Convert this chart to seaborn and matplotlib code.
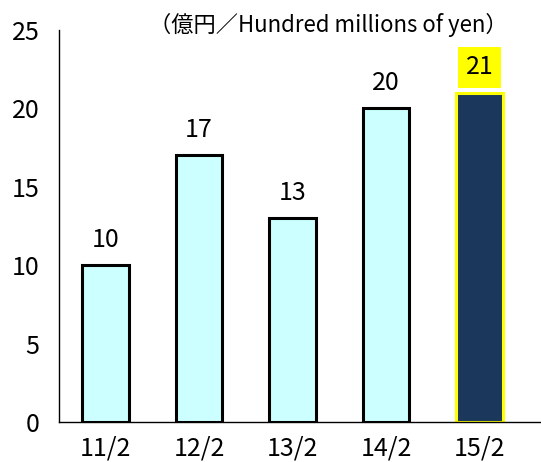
import matplotlib
matplotlib.use("Agg")
import matplotlib.pyplot as plt
import seaborn as sns
import pandas as pd

periods = ["11/2", "12/2", "13/2", "14/2", "15/2"]
values = [10, 17, 13, 20, 21]
fills = ["#CCFFFF", "#CCFFFF", "#CCFFFF", "#CCFFFF", "#1B375C"]
edges = ["#000000", "#000000", "#000000", "#000000", "#FFFF00"]
unit_label = "（億円／Hundred millions of yen）"

sns.set_style("white")
plt.rcParams["font.family"] = ["Noto Sans CJK JP", "DejaVu Sans"]
plt.rcParams["text.color"] = "black"
plt.rcParams["xtick.color"] = "black"
plt.rcParams["ytick.color"] = "black"

df = pd.DataFrame({"period": periods, "value": values})

fig = plt.figure(figsize=(5.41, 4.62), dpi=100)
ax = fig.add_axes([59 / 541, (462 - 422) / 462, (541 - 59) / 541, (422 - 30) / 462])

sns.barplot(data=df, x="period", y="value", hue="period", palette=fills,
            legend=False, width=0.5, ax=ax, saturation=1)

for patch, ec, v in zip(ax.patches, edges, values):
    patch.set_edgecolor(ec)
    patch.set_linewidth(2.2)
    cx = patch.get_x() + patch.get_width() / 2
    top = patch.get_height()
    if ec == "#FFFF00":
        ax.annotate(f"{v}", (cx, top), xytext=(0, 9), textcoords="offset points",
                    ha="center", va="bottom", fontsize=18,
                    bbox=dict(boxstyle="square,pad=0.3", fc="#FFFF00", ec="none"))
    else:
        ax.annotate(f"{v}", (cx, top), xytext=(0, 9), textcoords="offset points",
                    ha="center", va="bottom", fontsize=18)

ax.set_ylim(0, 25)
ax.set_xlim(-0.5, 4.66)
ax.set_yticks([0, 5, 10, 15, 20, 25])
ax.set_xlabel("")
ax.set_ylabel("")
ax.set_xticks([0.5, 1.5, 2.5, 3.5], minor=False)
ax.set_xticklabels([])
ax.set_xticks(range(5), minor=True)
ax.set_xticklabels(periods, minor=True)
ax.tick_params(axis="x", which="major", direction="in", length=6, width=0.8, color="#555555")
ax.tick_params(axis="x", which="minor", length=0, labelsize=18, pad=10)
ax.tick_params(axis="y", direction="in", length=6, width=0.8, labelsize=18, pad=14)

for side in ("top", "right"):
    ax.spines[side].set_visible(False)
for side in ("left", "bottom"):
    ax.spines[side].set_color("#000000")
    ax.spines[side].set_linewidth(1)

ax.text(0.93, 0.982, unit_label, transform=ax.transAxes, ha="right", va="bottom",
        fontsize=16)

fig.savefig("out.png", dpi=100)
